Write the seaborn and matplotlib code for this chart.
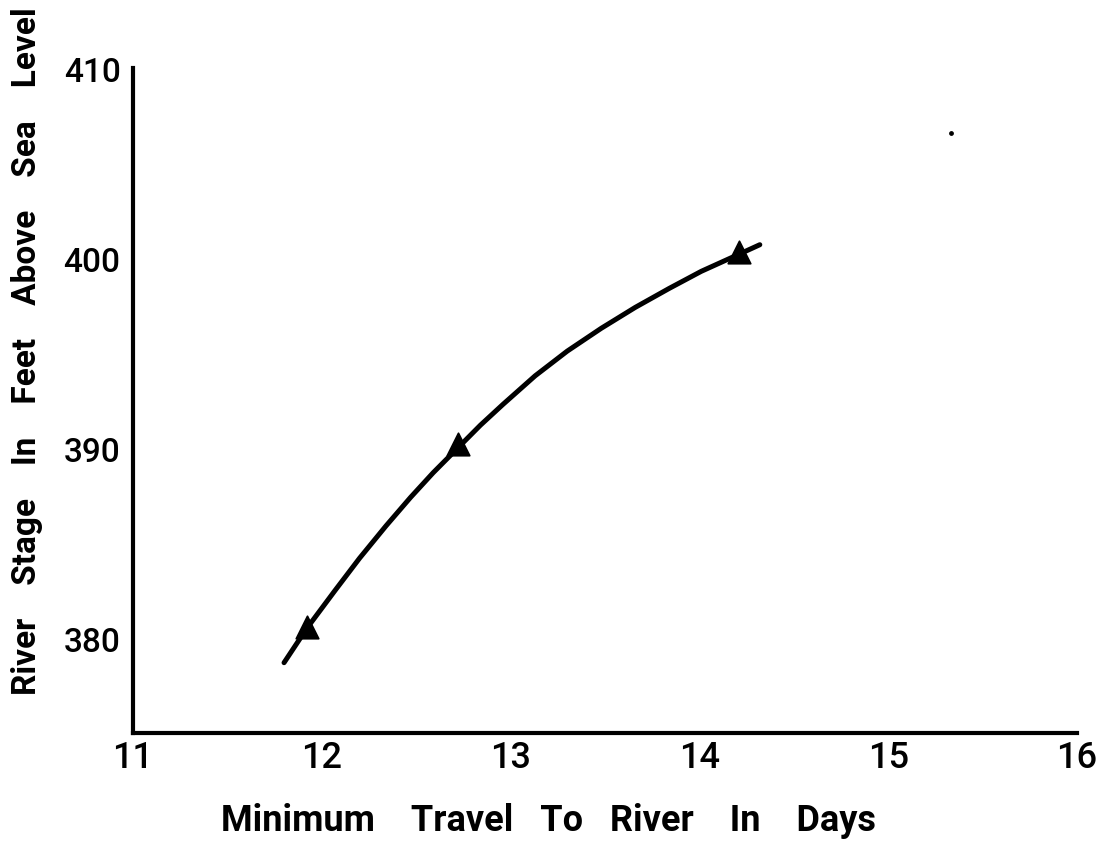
import matplotlib
matplotlib.use("Agg")
import matplotlib.pyplot as plt
import seaborn as sns
import pandas as pd

# measured points (triangles)
travel_days = [11.92, 12.72, 14.21]
river_stage = [380.7, 390.3, 400.4]

# hand-drawn curve
curve_days = [11.80, 11.92, 12.07, 12.20, 12.34, 12.47, 12.59, 12.72, 12.84,
              12.96, 13.13, 13.30, 13.48, 13.66, 13.84, 14.01, 14.21, 14.32]
curve_stage = [378.8, 380.6, 382.6, 384.3, 386.0, 387.5, 388.8, 390.1, 391.3,
               392.4, 393.9, 395.2, 396.4, 397.5, 398.5, 399.4, 400.3, 400.8]

# stray speck in the scan
speck_days = [15.33]
speck_stage = [406.7]

x_ticks = [11, 12, 13, 14, 15, 16]
y_ticks = [380, 390, 400, 410]

sns.set_style("white")
plt.rcParams['font.family'] = ['Roboto', 'DejaVu Sans']
plt.rcParams['font.weight'] = 'medium'
plt.rcParams['text.color'] = 'black'
plt.rcParams['xtick.color'] = 'black'
plt.rcParams['ytick.color'] = 'black'
plt.rcParams['axes.labelcolor'] = 'black'

fig = plt.figure(figsize=(11.01, 8.43), dpi=100)
ax = fig.add_axes([0.1208, 0.1305, 0.8574, 0.7888])

curve = pd.DataFrame({"days": curve_days, "stage": curve_stage})
pts = pd.DataFrame({"days": travel_days, "stage": river_stage})

sns.lineplot(data=curve, x="days", y="stage", color="black", linewidth=3.6,
             sort=False, ax=ax)
sns.scatterplot(data=pts, x="days", y="stage", marker="^", s=260,
                color="black", edgecolor="black", ax=ax, zorder=3)
ax.scatter(speck_days, speck_stage, s=6, color="black")

ax.set_xlim(11, 16)
ax.set_ylim(375.1, 410.1)
ax.set_xticks(x_ticks)
ax.set_yticks(y_ticks)
ax.tick_params(axis="x", length=0, pad=6, labelsize=26)
ax.tick_params(axis="y", length=0, pad=9, labelsize=24)

for side in ["top", "right"]:
    ax.spines[side].set_visible(False)
for side in ["left", "bottom"]:
    ax.spines[side].set_linewidth(3)
    ax.spines[side].set_color("black")

ax.set_xlabel("Minimum    Travel   To   River    In    Days", fontsize=26,
              fontweight="bold")
ax.xaxis.set_label_coords(0.440, -0.106)
ax.set_ylabel("River    Stage    In    Feet    Above    Sea    Level",
              fontsize=24, fontweight="bold")
ax.yaxis.set_label_coords(-0.095, 0.575)

fig.savefig("out.png", dpi=100)
